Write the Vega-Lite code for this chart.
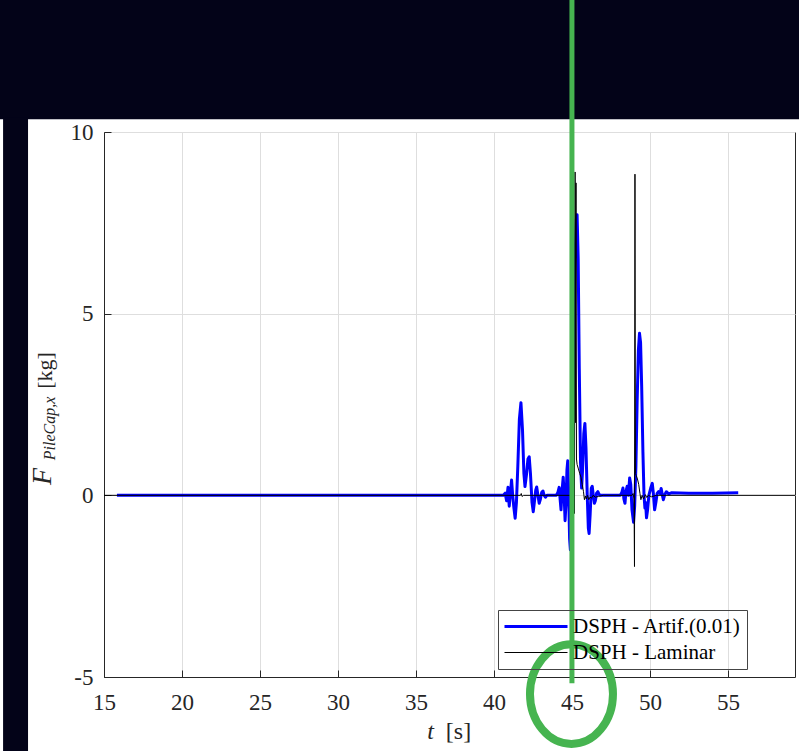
{
  "$schema": "https://vega.github.io/schema/vega-lite/v6.json",
  "width": 691,
  "height": 545,
  "autosize": "none",
  "padding": {"left": 104, "top": 132, "right": 4, "bottom": 74},
  "background": "white",
  "config": {"view": {"stroke": "#262626", "strokeWidth": 1}},
  "datasets": {
    "artif": [
      {"t":15.83,"F":0},{"t":40.6,"F":0},{"t":40.72,"F":0.06},{"t":40.81,"F":-0.15},{"t":40.9,"F":0.22},{"t":40.98,"F":-0.3},{"t":41.06,"F":0.1},{"t":41.13,"F":0.42},{"t":41.2,"F":0.0},{"t":41.28,"F":-0.35},{"t":41.36,"F":-0.63},{"t":41.44,"F":-0.2},{"t":41.53,"F":0.8},{"t":41.63,"F":2.1},{"t":41.73,"F":2.55},{"t":41.83,"F":1.8},{"t":41.92,"F":0.6},{"t":41.99,"F":0.24},{"t":42.08,"F":0.55},{"t":42.18,"F":1.0},{"t":42.26,"F":1.06},{"t":42.34,"F":0.6},{"t":42.44,"F":-0.2},{"t":42.52,"F":-0.45},{"t":42.6,"F":-0.15},{"t":42.68,"F":0.15},{"t":42.74,"F":0.23},{"t":42.82,"F":0.0},{"t":42.9,"F":-0.22},{"t":42.98,"F":-0.1},{"t":43.06,"F":0.08},{"t":43.14,"F":0.12},{"t":43.22,"F":0.0},{"t":43.3,"F":-0.05},{"t":43.4,"F":0},{"t":44.0,"F":0},{"t":44.1,"F":0.08},{"t":44.18,"F":0.22},{"t":44.24,"F":-0.1},{"t":44.3,"F":-0.4},{"t":44.36,"F":0.1},{"t":44.44,"F":0.5},{"t":44.5,"F":0.0},{"t":44.56,"F":-0.7},{"t":44.62,"F":-0.2},{"t":44.68,"F":0.7},{"t":44.73,"F":0.95},{"t":44.78,"F":0.2},{"t":44.85,"F":-1.2},{"t":44.9,"F":-1.5},{"t":44.96,"F":-0.6},{"t":45.04,"F":1.0},{"t":45.12,"F":3.5},{"t":45.2,"F":6.5},{"t":45.28,"F":7.6},{"t":45.33,"F":7.72},{"t":45.4,"F":6.5},{"t":45.47,"F":3.5},{"t":45.55,"F":0.9},{"t":45.62,"F":0.2},{"t":45.68,"F":0.7},{"t":45.76,"F":1.7},{"t":45.83,"F":1.98},{"t":45.9,"F":1.3},{"t":45.98,"F":0.0},{"t":46.05,"F":-0.9},{"t":46.1,"F":-1.05},{"t":46.17,"F":-0.5},{"t":46.24,"F":0.2},{"t":46.3,"F":0.25},{"t":46.37,"F":0.0},{"t":46.44,"F":-0.22},{"t":46.5,"F":-0.15},{"t":46.58,"F":0.06},{"t":46.66,"F":0.1},{"t":46.75,"F":0.02},{"t":46.85,"F":0},{"t":48.1,"F":0},{"t":48.2,"F":0.08},{"t":48.27,"F":0.2},{"t":48.33,"F":-0.1},{"t":48.4,"F":-0.22},{"t":48.46,"F":0.1},{"t":48.54,"F":0.25},{"t":48.62,"F":0.0},{"t":48.7,"F":0.48},{"t":48.77,"F":0.3},{"t":48.85,"F":-0.4},{"t":48.95,"F":-0.74},{"t":49.02,"F":-0.3},{"t":49.1,"F":0.8},{"t":49.18,"F":2.6},{"t":49.26,"F":4.0},{"t":49.33,"F":4.46},{"t":49.4,"F":4.2},{"t":49.47,"F":3.0},{"t":49.55,"F":1.2},{"t":49.62,"F":0.0},{"t":49.68,"F":-0.35},{"t":49.72,"F":-0.2},{"t":49.78,"F":-0.62},{"t":49.85,"F":-0.4},{"t":49.93,"F":0.0},{"t":50.05,"F":0.2},{"t":50.15,"F":0.33},{"t":50.22,"F":0.05},{"t":50.3,"F":-0.4},{"t":50.38,"F":-0.2},{"t":50.46,"F":0.05},{"t":50.55,"F":0.1},{"t":50.65,"F":0.05},{"t":50.72,"F":0.19},{"t":50.8,"F":0.0},{"t":50.86,"F":-0.12},{"t":50.95,"F":0.02},{"t":51.05,"F":0.1},{"t":51.2,"F":0.04},{"t":51.4,"F":0.07},{"t":52.5,"F":0.06},{"t":54.0,"F":0.06},{"t":55.66,"F":0.07}
    ],
    "laminar": [
      {"t":15,"F":0},{"t":41.7,"F":0},{"t":41.75,"F":0.05},{"t":41.8,"F":-0.03},{"t":41.9,"F":0},{"t":44.95,"F":0},{"t":45.05,"F":0.05},{"t":45.12,"F":-0.1},{"t":45.16,"F":-0.5},{"t":45.2,"F":8.9},{"t":45.23,"F":2.0},{"t":45.26,"F":8.6},{"t":45.29,"F":1.0},{"t":45.33,"F":0.85},{"t":45.4,"F":0.75},{"t":45.5,"F":0.6},{"t":45.58,"F":0.5},{"t":45.66,"F":0.3},{"t":45.74,"F":0.1},{"t":45.8,"F":-0.12},{"t":45.86,"F":-0.02},{"t":45.92,"F":-0.1},{"t":46.0,"F":0.0},{"t":46.08,"F":-0.12},{"t":46.16,"F":-0.05},{"t":46.25,"F":-0.08},{"t":46.35,"F":0.0},{"t":46.5,"F":-0.05},{"t":46.7,"F":-0.03},{"t":47.0,"F":0},{"t":48.85,"F":0},{"t":48.92,"F":0.05},{"t":48.98,"F":-0.1},{"t":49.01,"F":-1.96},{"t":49.04,"F":8.84},{"t":49.07,"F":0.6},{"t":49.12,"F":0.55},{"t":49.2,"F":0.45},{"t":49.28,"F":0.3},{"t":49.36,"F":0.05},{"t":49.42,"F":-0.12},{"t":49.5,"F":0.0},{"t":49.6,"F":-0.1},{"t":49.7,"F":0.02},{"t":49.8,"F":-0.06},{"t":49.9,"F":0.0},{"t":50.1,"F":-0.04},{"t":50.4,"F":0.0},{"t":59.3,"F":0}
    ],
    "one": [{"k": 1}]
  },
  "resolve": {"axis": {"x": "independent", "y": "independent"}},
  "layer": [
    {
      "data": {"name": "one"},
      "mark": {"type": "rect", "color": "#030318"},
      "encoding": {
        "x": {"datum": 8, "type": "quantitative", "scale": {"domain": [15, 59.3], "nice": false, "zero": false}, "axis": null},
        "x2": {"datum": 60},
        "y": {"datum": 10.35, "type": "quantitative", "scale": {"domain": [-5, 10], "nice": false, "zero": false}, "axis": null},
        "y2": {"datum": 14}
      }
    },
    {
      "data": {"name": "one"},
      "mark": {"type": "rect", "color": "#030318"},
      "encoding": {
        "x": {"datum": 8.53, "type": "quantitative", "scale": {"domain": [15, 59.3], "nice": false, "zero": false}, "axis": null},
        "x2": {"datum": 10.13},
        "y": {"datum": 10.4, "type": "quantitative", "scale": {"domain": [-5, 10], "nice": false, "zero": false}, "axis": null},
        "y2": {"datum": -7.3}
      }
    },
    {
      "data": {"name": "artif"},
      "mark": {"type": "line", "strokeWidth": 3, "strokeJoin": "round"},
      "encoding": {
        "x": {"field": "t", "type": "quantitative", "scale": {"domain": [15, 59.3], "nice": false, "zero": false},
          "axis": {"orient": "bottom", "values": [15,20,25,30,35,40,45,50,55], "grid": true, "gridColor": "#dedede", "domainColor": "#262626", "tickColor": "#262626", "tickSize": -7, "labelFlush": false, "labelFont": "Liberation Serif", "labelFontSize": 23, "labelColor": "#262626", "labelPadding": 21, "labelExpr": "'' + datum.value",
            "title": "t", "titleFont": "Liberation Serif", "titleFontStyle": "italic", "titleFontSize": 24, "titleFontWeight": "normal", "titleColor": "#262626", "titleX": 326, "titleY": 61, "titleBaseline": "alphabetic", "titleAlign": "center"}},
        "y": {"field": "F", "type": "quantitative", "scale": {"domain": [-5, 10], "nice": false, "zero": false},
          "axis": {"orient": "left", "values": [-5,0,5,10], "grid": true, "gridColor": "#dedede", "domainColor": "#262626", "tickColor": "#262626", "tickSize": -7, "labelFlush": false, "labelFont": "Liberation Serif", "labelFontSize": 23, "labelColor": "#262626", "labelPadding": 18, "labelExpr": "'' + datum.value",
            "title": "F", "titleFont": "Liberation Serif", "titleFontStyle": "italic", "titleFontSize": 28, "titleFontWeight": "normal", "titleColor": "#262626", "titleAngle": 270, "titleX": -62, "titleY": 344, "titleBaseline": "middle", "titleAlign": "center"}},
        "color": {"datum": "DSPH - Artif.(0.01)", "type": "nominal",
          "scale": {"domain": ["DSPH - Artif.(0.01)", "DSPH - Laminar"], "range": ["#0000ff", "#000000"]},
          "legend": {"title": null, "orient": "none", "legendX": 394, "legendY": 478, "symbolType": "M-1,0H5.3", "symbolSize": 400, "labelOffset": 48, "labelLimit": 400, "labelFont": "Liberation Serif", "labelFontSize": 21, "labelColor": "#000000", "strokeColor": "#444444", "padding": 6, "rowPadding": 4, "symbolStrokeWidth": 3,
            "encode": {"symbols": {"update": {"strokeWidth": {"signal": "datum.value === 'DSPH - Laminar' ? 1 : 3"}}}}}
        }
      }
    },
    {
      "data": {"name": "laminar"},
      "mark": {"type": "line", "strokeWidth": 1, "strokeJoin": "round"},
      "encoding": {
        "x": {"field": "t", "type": "quantitative", "scale": {"domain": [15, 59.3], "nice": false, "zero": false},
          "axis": {"orient": "bottom", "domain": false, "ticks": false, "labels": false, "grid": false,
            "title": "[s]", "titleFont": "Liberation Serif", "titleFontSize": 24, "titleFontWeight": "normal", "titleColor": "#262626", "titleX": 354, "titleY": 61, "titleBaseline": "alphabetic", "titleAlign": "center"}},
        "y": {"field": "F", "type": "quantitative", "scale": {"domain": [-5, 10], "nice": false, "zero": false},
          "axis": {"orient": "left", "domain": false, "ticks": false, "labels": false, "grid": false,
            "title": "PileCap,x", "titleFont": "Liberation Serif", "titleFontStyle": "italic", "titleFontSize": 16, "titleFontWeight": "normal", "titleColor": "#262626", "titleAngle": 270, "titleX": -55, "titleY": 296, "titleBaseline": "middle", "titleAlign": "center"}},
        "color": {"datum": "DSPH - Laminar", "type": "nominal"}
      }
    },
    {
      "data": {"name": "one"},
      "mark": {"type": "rule", "color": "#46b450", "strokeWidth": 5},
      "encoding": {
        "x": {"datum": 45, "type": "quantitative", "scale": {"domain": [15, 59.3], "nice": false, "zero": false}, "axis": null},
        "y": {"datum": 14, "type": "quantitative", "scale": {"domain": [-5, 10], "nice": false, "zero": false}, "axis": null},
        "y2": {"datum": -5.17}
      }
    },
    {
      "data": {"name": "one"},
      "mark": {"type": "point", "filled": false, "stroke": "#46b450", "strokeWidth": 8, "opacity": 1, "size": 6889,
        "shape": "M0,-1.2C0.5523,-1.2,1,-0.6628,1,0C1,0.6628,0.5523,1.2,0,1.2C-0.5523,1.2,-1,0.6628,-1,0C-1,-0.6628,-0.5523,-1.2,0,-1.2Z"},
      "encoding": {
        "x": {"datum": 44.97, "type": "quantitative", "scale": {"domain": [15, 59.3], "nice": false, "zero": false}, "axis": null},
        "y": {"datum": -5.47, "type": "quantitative", "scale": {"domain": [-5, 10], "nice": false, "zero": false},
          "axis": {"orient": "left", "domain": false, "ticks": false, "labels": false, "grid": false,
            "title": "[kg]", "titleFont": "Liberation Serif", "titleFontSize": 22, "titleFontWeight": "normal", "titleColor": "#262626", "titleAngle": 270, "titleX": -60, "titleY": 238, "titleBaseline": "middle", "titleAlign": "center"}}
      }
    }
  ]
}
